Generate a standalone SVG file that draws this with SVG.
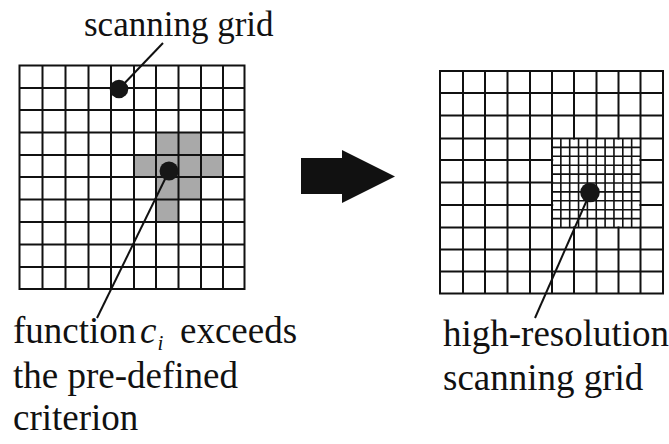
<svg xmlns="http://www.w3.org/2000/svg" width="669" height="444" viewBox="0 0 669 444">
  <style>
    .grid { fill: none; stroke: #111; stroke-width: 2; stroke-linecap: square; }
    .fine { fill: none; stroke: #111; stroke-width: 1.6; }
    .shade { fill: #a9a9a9; }
    .dot { fill: #161616; }
    .lead { stroke: #111; stroke-width: 2; fill: none; }
    .lbl { font-family: "Liberation Serif", "Times New Roman", "DejaVu Serif", serif; fill: #111; }
    .it { font-style: italic; }
  </style>
  <rect width="669" height="444" fill="#fff"/>

  <g id="left-grid">
    <g class="shade">
      <rect x="156" y="132.5" width="22.5" height="22.5"/>
      <rect x="178.5" y="132.5" width="22.5" height="22.5"/>
      <rect x="134" y="155" width="22" height="22"/>
      <rect x="156" y="155" width="22.5" height="22"/>
      <rect x="178.5" y="155" width="22.5" height="22"/>
      <rect x="201" y="155" width="22" height="22"/>
      <rect x="156" y="177" width="22.5" height="22.5"/>
      <rect x="178.5" y="177" width="22.5" height="22.5"/>
      <rect x="156" y="199.5" width="22.5" height="22.5"/>
    </g>
    <path class="grid" d="M19.5 65.5V289 M42.5 65.5V289 M65.5 65.5V289 M88.5 65.5V289 M111 65.5V289 M134 65.5V289 M156 65.5V289 M178.5 65.5V289 M201 65.5V289 M223 65.5V289 M244.5 65.5V289
      M19.5 65.5H244.5 M19.5 88H244.5 M19.5 110H244.5 M19.5 132.5H244.5 M19.5 155H244.5 M19.5 177H244.5 M19.5 199.5H244.5 M19.5 222H244.5 M19.5 244.5H244.5 M19.5 267H244.5 M19.5 289H244.5"/>
  </g>

  <g id="arrow">
    <polygon points="301,158 342,158 342,150 395,176.5 342,203 342,194 301,194" fill="#111"/>
  </g>

  <g id="right-grid">
    <path class="grid" d="M440 71V293.5 M463 71V293.5 M485 71V293.5 M507.5 71V293.5 M530 71V293.5 M552 71V293.5 M574 71V293.5 M596.5 71V293.5 M618.5 71V293.5 M640.5 71V293.5 M663 71V293.5
      M440 71H663 M440 93H663 M440 115.5H663 M440 138.5H663 M440 160H663 M440 182.5H663 M440 205H663 M440 227.5H663 M440 249.5H663 M440 271.5H663 M440 293.5H663"/>
    <rect x="553.2" y="139.7" width="86.1" height="86.6" fill="#fff"/>
    <path class="fine" d="M560.85 138.5V227.5 M569.7 138.5V227.5 M578.55 138.5V227.5 M587.4 138.5V227.5 M596.25 138.5V227.5 M605.1 138.5V227.5 M613.95 138.5V227.5 M622.8 138.5V227.5 M631.65 138.5V227.5
      M552 147.4H640.5 M552 156.3H640.5 M552 165.2H640.5 M552 174.1H640.5 M552 183H640.5 M552 191.9H640.5 M552 200.8H640.5 M552 209.7H640.5 M552 218.6H640.5"/>
  </g>

  <g id="connectors">
    <line class="lead" x1="119" y1="89" x2="163" y2="43"/>
    <line class="lead" x1="169" y1="171" x2="97" y2="318"/>
    <line class="lead" x1="590" y1="193" x2="535" y2="318"/>
  </g>

  <g id="point-scanning-grid">
    <circle class="dot" cx="119" cy="89" r="9.3"/>
  </g>
  <g id="point-criterion">
    <circle class="dot" cx="169" cy="171" r="9.5"/>
  </g>
  <g id="point-high-resolution">
    <circle class="dot" cx="590" cy="192.5" r="9.8"/>
  </g>

  <g id="label-scanning-grid">
    <text class="lbl" x="84" y="36" font-size="35">scanning grid</text>
  </g>
  <g id="label-criterion">
    <text class="lbl" font-size="37"><tspan x="13" y="343">function</tspan><tspan class="it" x="140" y="343">c</tspan><tspan class="it" x="157.5" y="350" font-size="21">i</tspan><tspan x="180" y="343">exceeds</tspan></text>
    <text class="lbl" x="13" y="388" font-size="37">the pre-defined</text>
    <text class="lbl" x="13" y="430" font-size="37">criterion</text>
  </g>
  <g id="label-high-resolution">
    <text class="lbl" x="443" y="346" font-size="37">high-resolution</text>
    <text class="lbl" x="443" y="390" font-size="37">scanning grid</text>
  </g>
</svg>
